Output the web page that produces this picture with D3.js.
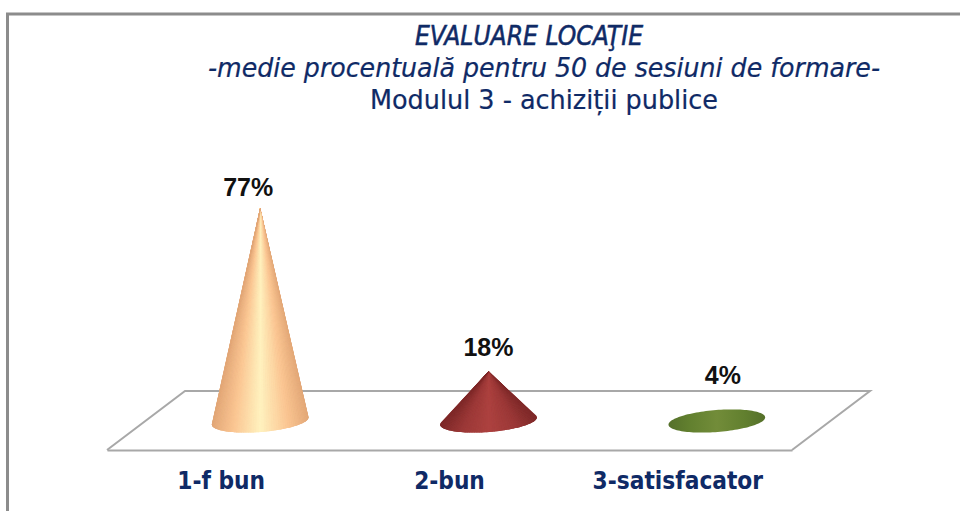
<!DOCTYPE html>
<html><head><meta charset="utf-8">
<script src="https://cdn.jsdelivr.net/npm/d3@7/dist/d3.min.js"></script>
<style>html,body{margin:0;padding:0;background:#fff}svg{display:block}</style>
</head><body><svg id="c" width="960" height="511"></svg>
<script>
const categories = ["1-f bun", "2-bun", "3-satisfacator"];
const values = [77, 18, 4];
const valueLabels = ["77%", "18%", "4%"];
const titleLines = ["EVALUARE LOCAŢIE", "-medie procentuală pentru 50 de sesiuni de formare-", "Modulul 3 - achiziții publice"];
const edgeColors = ["#e3a878", "#7f2a2a", "#55702a"];
const shoulderColors = ["#fbc693", "#9c3938", "#62802f"];
const midColors = ["#fff2bf", "#ad4240", "#728c39"];

const svg = d3.select("#c");
const W = 960, H = 511;
const navy = "#0f2a66";
const family = "'DejaVu Sans Condensed', 'DejaVu Sans', sans-serif";

// frame
svg.append("path").attr("d", `M7.5,${H} V14 H${W}`).attr("fill", "none").attr("stroke", "#8c8c8c").attr("stroke-width", 3);

// titles
const titleStyle = [
  {x: 529, y: 45, style: "italic", len: 228, stroke: 0.5},
  {x: 544, y: 77, style: "italic", len: 672, stroke: 0.2},
  {x: 544, y: 109, style: "normal", len: 348, stroke: 0.2}
];
svg.selectAll("text.t").data(titleLines).join("text").attr("class", "t")
  .attr("x", (d, i) => titleStyle[i].x).attr("y", (d, i) => titleStyle[i].y)
  .attr("text-anchor", "middle").attr("fill", navy)
  .attr("stroke", navy).attr("stroke-width", (d, i) => titleStyle[i].stroke)
  .attr("font-family", family).attr("font-size", 26)
  .attr("font-style", (d, i) => titleStyle[i].style)
  .attr("textLength", (d, i) => titleStyle[i].len).attr("lengthAdjust", "spacingAndGlyphs")
  .text(d => d);

// scales
const x = d3.scaleBand().domain(categories).range([107, 792]);
const baseY = 421, depthX = 39;
const y = d3.scaleLinear().domain([0, 100]).range([baseY, baseY - 277]);
const cx = c => x(c) + x.bandwidth() / 2 + depthX;

// floor: back and side edges
const floorFront = 450, floorBack = 391;
svg.append("path")
  .attr("d", `M${x.range()[0]},${floorFront} L${x.range()[0] + depthX * 2},${floorBack} H${x.range()[1] + depthX * 2} L${x.range()[1]},${floorFront}`)
  .attr("fill", "none").attr("stroke", "#a8a8a8").attr("stroke-width", 2);

// category axis (front edge of the floor)
const axis = svg.append("g").attr("transform", `translate(0,${floorFront})`)
  .call(d3.axisBottom(x).tickSize(0).tickPadding(22));
axis.select(".domain").attr("stroke", "#a8a8a8").attr("stroke-width", 2);
axis.selectAll("text").attr("fill", navy).attr("font-family", family)
  .attr("font-weight", 700).attr("font-size", 24.2);

// gradients
const defs = svg.append("defs");
const profile = i => [[0, edgeColors[i]], [0.22, shoulderColors[i]], [0.5, midColors[i]], [0.78, shoulderColors[i]], [1, edgeColors[i]]];
categories.forEach((c, i) => {
  const g = defs.append("linearGradient").attr("id", "g" + i);
  profile(i).forEach(s => g.append("stop").attr("offset", s[0]).attr("stop-color", s[1]));
});

// cones: hull of apex and tilted base ellipse, shaded by a fan of strips from the apex
const rx = 48.5, ry = 11, tilt = -4.5 * Math.PI / 180;
const labelDx = [-12, 0, 6], labelDy = [12, 15, 26];
const ringAngles = d3.range(0, 360, 3).map(a => a * Math.PI / 180);
categories.forEach((c, i) => {
  const c0 = cx(c);
  const pt = t => {
    const px = rx * Math.cos(t), py = ry * Math.sin(t);
    return [c0 + px * Math.cos(tilt) - py * Math.sin(tilt), baseY + px * Math.sin(tilt) + py * Math.cos(tilt)];
  };
  const apex = [c0, y(values[i])];
  const isFlat = baseY - apex[1] <= ry + 1;
  const hull = d3.polygonHull(isFlat ? ringAngles.map(pt) : ringAngles.map(pt).concat([apex]));
  const d = d3.line()(hull) + "Z";
  defs.append("clipPath").attr("id", "clip" + i).append("path").attr("d", d);
  svg.append("path").attr("d", d).attr("fill", `url(#g${i})`);
  if (!isFlat) {
    const stops = profile(i);
    const color = d3.scaleLinear().domain(stops.map(s => s[0])).range(stops.map(s => s[1])).clamp(true);
    const fan = svg.append("g").attr("clip-path", `url(#clip${i})`);
    ringAngles.filter(t => t <= Math.PI).forEach(t => {
      const a = pt(t), b = pt(t + 3 * Math.PI / 180);
      const col = color((0.5 * (a[0] + b[0]) - c0 + rx) / (2 * rx));
      fan.append("path").attr("d", d3.line()([apex, a, b]) + "Z").attr("fill", col).attr("stroke", col).attr("stroke-width", 0.6);
    });
  }
  svg.append("text").attr("x", c0 + labelDx[i]).attr("y", y(values[i]) - labelDy[i])
    .attr("text-anchor", "middle").attr("fill", "#111")
    .attr("font-family", "'Liberation Sans', Arial, sans-serif").attr("font-weight", 700).attr("font-size", 25)
    .text(valueLabels[i]);
});
</script></body></html>
